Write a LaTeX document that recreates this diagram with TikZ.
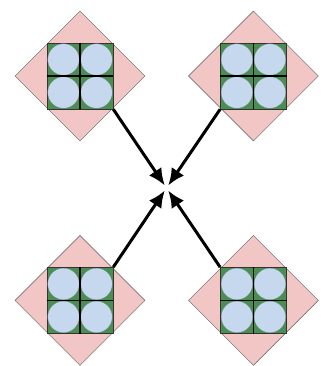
\documentclass[tikz,border=0pt]{standalone}
\usetikzlibrary{shapes.geometric, arrows.meta, positioning}
\definecolor{petalpink}{HTML}{F2C6C4}
\definecolor{cellblue}{HTML}{C6D8EE}
\definecolor{padgreen}{HTML}{4A8F52}
\definecolor{darkgray}{HTML}{333333}
\tikzset{
  petal/.style={
    diamond, aspect=1,
    minimum width=130pt, minimum height=130pt, inner sep=0pt,
    draw=darkgray!80, thin, fill=petalpink,
  },
  tile/.style={
    rectangle, minimum size=66pt, inner sep=0pt,
    draw=black!80, semithick, fill=padgreen,
  },
  cell/.style={
    circle, minimum size=31.5pt, inner sep=0pt,
    draw=cellblue!60!black, very thin, fill=cellblue,
  },
  divider/.style={line width=1.3pt, color=black},
  arrow/.style={-{Latex[length=17pt, width=15pt]}, line width=3pt, shorten >=3pt},
}
\begin{document}
\begin{tikzpicture}[x=1pt, y=-1pt]
  \useasboundingbox (0,0) rectangle (325,366);

  \node[petal] (tl) at (80,76) {};
  \node[petal, right=43pt of tl] (tr) {};
  \node[petal, below=94pt of tl] (bl) {};
  \node[petal, below=94pt of tr] (br) {};

  % tile with four cells in every petal
  \foreach \p in {tl,tr,bl,br}{
    \node[tile] (sq\p) at (\p) {};
    \foreach \dx in {-16.5,16.5}
      \foreach \dy in {-16.5,16.5}
        \node[cell] at ([shift={(\dx,\dy)}]sq\p) {};
    \draw[divider] (sq\p.north) -- (sq\p.south) (sq\p.west) -- (sq\p.east);
  }

  \coordinate (hub) at (166.5,188);

  \draw[arrow] (sqtl.south east) -- (hub);
  \draw[arrow] (sqtr.south west) -- (hub);
  \draw[arrow] (sqbl.north east) -- (hub);
  \draw[arrow] (sqbr.north west) -- (hub);

\end{tikzpicture}
\end{document}
